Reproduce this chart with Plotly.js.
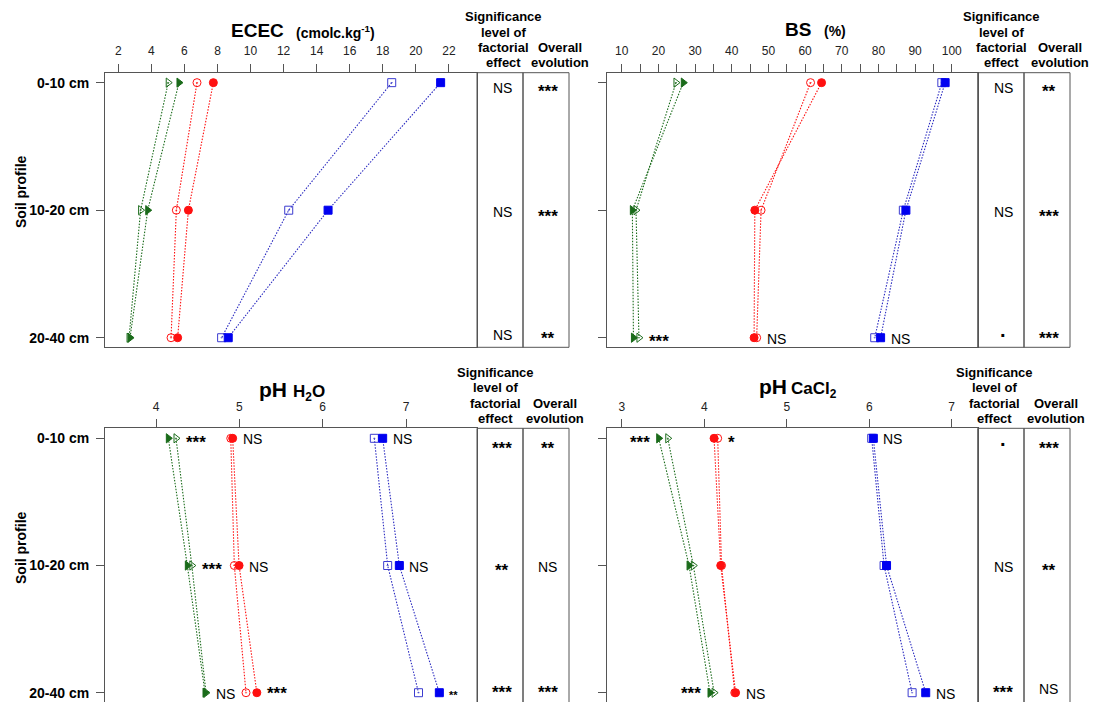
<!DOCTYPE html>
<html><head><meta charset="utf-8">
<script src="https://cdn.plot.ly/plotly-3.0.1.min.js"></script>
<style>html,body{margin:0;padding:0;background:#fff}#chart{width:1096px;height:702px}</style>
</head><body><div id="chart"></div>
<script>
// ---------- DATA ----------
const depths = ['0-10 cm', '10-20 cm', '20-40 cm'];

// ECEC (cmolc.kg-1)
const ececOpenTri  = [5.02, 3.35, 2.65];
const ececFillTri  = [5.67, 3.78, 2.71];
const ececOpenCirc = [6.76, 5.51, 5.19];
const ececFillCirc = [7.75, 6.24, 5.59];
const ececOpenSq   = [18.54, 12.31, 8.25];
const ececFillSq   = [21.5, 14.69, 8.65];
const ececTickVals = [2, 4, 6, 8, 10, 12, 14, 16, 18, 20, 22];
const ececFactor = ['NS', 'NS', 'NS'];
const ececEvol   = ['***', '***', '**'];

// BS (%)
const bsOpenTri  = [24.8, 13.9, 14.7];
const bsFillTri  = [26.8, 12.9, 13.2];
const bsOpenCirc = [61.5, 48.0, 46.8];
const bsFillCirc = [64.5, 46.3, 46.1];
const bsOpenSq   = [97.3, 86.8, 79.0];
const bsFillSq   = [98.2, 87.5, 80.6];
const bsTickVals = [10, 20, 30, 40, 50, 60, 70, 80, 90, 100];
const bsMinorTickVals = [15, 25, 35, 45, 55, 65, 75, 85, 95];
const bsGreenSig = ['', '', '***'];
const bsRedSig   = ['', '', 'NS'];
const bsBlueSig  = ['', '', 'NS'];
const bsFactor = ['NS', 'NS', '·'];
const bsEvol   = ['**', '***', '***'];

// pH H2O
const phwOpenTri  = [4.24, 4.43, 4.60];
const phwFillTri  = [4.148, 4.376, 4.588];
const phwOpenCirc = [4.897, 4.94, 5.08];
const phwFillCirc = [4.92, 4.997, 5.21];
const phwOpenSq   = [6.62, 6.78, 7.15];
const phwFillSq   = [6.72, 6.92, 7.40];
const phwTickVals = [4, 5, 6, 7];
const phwGreenSig = ['***', '***', 'NS'];
const phwRedSig   = ['NS', 'NS', '***'];
const phwBlueSig  = ['NS', 'NS', '**'];
const phwFactor = ['***', '**', '***'];
const phwEvol   = ['**', 'NS', '***'];

// pH CaCl2
const phcOpenTri  = [3.558, 3.868, 4.12];
const phcFillTri  = [3.448, 3.816, 4.07];
const phcOpenCirc = [4.163, 4.21, 4.37];
const phcFillCirc = [4.119, 4.20, 4.38];
const phcOpenSq   = [6.03, 6.18, 6.52];
const phcFillSq   = [6.05, 6.21, 6.685];
const phcTickVals = [3, 4, 5, 6, 7];
const phcGreenSig = ['***', '', '***'];
const phcRedSig   = ['*', '', 'NS'];
const phcBlueSig  = ['NS', '', 'NS'];
const phcFactor = ['·', 'NS', '***'];
const phcEvol   = ['***', '**', 'NS'];

const headerSig  = ['Significance', 'level of', 'factorial', 'effect'];
const headerEvol = ['Overall', 'evolution'];
const yTitle = 'Soil profile';

// ---------- LAYOUT / STYLE ----------
const W = 1096, H = 702;
const FONT = 'Liberation Sans, Arial, sans-serif';
const px = x => x / W;
const py = y => 1 - y / H;
const GREEN = '#1a6b1a', RED = '#ff1010', BLUE = '#0000f0', BLUE_OPEN = '#3c3cd0';
const AX = '#555555';

const seriesStyle = [
  {color: GREEN, line: GREEN, symbol: 'triangle-right-open-dot'},
  {color: GREEN, line: GREEN, symbol: 'triangle-right'},
  {color: RED, line: RED, symbol: 'circle-open-dot'},
  {color: RED, line: RED, symbol: 'circle'},
  {color: BLUE_OPEN, line: '#2a2ac0', symbol: 'square-open-dot'},
  {color: BLUE, line: '#2a2ac0', symbol: 'square'}
];

const panels = [
  {xa: 'x', ya: 'y', xd: [105, 477], yd: [72.7, 347.3], yr: [2.075, -0.078], xr: [1.195, 23.70],
   tv: ececTickVals, minor: null, labels: true, mirrorX: true,
   series: [ececOpenTri, ececFillTri, ececOpenCirc, ececFillCirc, ececOpenSq, ececFillSq],
   sig: null, factor: ececFactor, evol: ececEvol,
   cols: [477, 523, 569], colTextX: [502, 547.5], headX: [503, 560], headY: [17, 32, 47.5, 62.5],
   rowShift: [-5, -2, 3], rowTop: 72.7, rowBot: 347.3,
   title: [{text: '<b>ECEC</b>', size: 19, x: 229, y: 30.7}, {text: '<b>(cmolc.kg<sup>-1</sup>)</b>', size: 14, x: 294, y: 32.5}],
   yTitleY: 192},
  {xa: 'x2', ya: 'y2', xd: [607.3, 977.7], yd: [72.7, 347.3], yr: [2.075, -0.078], xr: [6.07, 107.08],
   tv: bsTickVals, minor: bsMinorTickVals, labels: false, mirrorX: true,
   series: [bsOpenTri, bsFillTri, bsOpenCirc, bsFillCirc, bsOpenSq, bsFillSq],
   sig: [[bsGreenSig, 'right'], [bsRedSig, 'right'], [bsBlueSig, 'right']], factor: bsFactor, evol: bsEvol,
   cols: [977.7, 1024, 1070], colTextX: [1003, 1048.5], headX: [1001, 1060], headY: [17, 32, 47.5, 62.5],
   rowShift: [-5, -2, 3], rowTop: 72.7, rowBot: 347.3,
   title: [{text: '<b>BS</b>', size: 19, x: 783, y: 30}, {text: '<b>(%)</b>', size: 14, x: 822, y: 31.5}]},
  {xa: 'x3', ya: 'y3', xd: [105, 477], yd: [428.3, 702], yr: [2.073, -0.0786], xr: [3.388, 7.852],
   tv: phwTickVals, minor: null, labels: true, mirrorX: false,
   series: [phwOpenTri, phwFillTri, phwOpenCirc, phwFillCirc, phwOpenSq, phwFillSq],
   sig: [[phwGreenSig, 'right'], [phwRedSig, 'right'], [phwBlueSig, 'right']], factor: phwFactor, evol: phwEvol,
   cols: [477, 523, 569], colTextX: [502, 547.5], headX: [495, 555], headY: [372.6, 387.6, 403.1, 418.1],
   rowShift: [-6, -1, 4], rowTop: 428.3, rowBot: 704, bottomPanel: true,
   title: [{text: '<b>pH</b>', size: 21, x: 257, y: 389}, {text: '<b>H<sub>2</sub>O</b>', size: 17, x: 291, y: 393}],
   yTitleY: 548, smallLast: true},
  {xa: 'x4', ya: 'y4', xd: [607.3, 977.7], yd: [428.3, 702], yr: [2.073, -0.0786], xr: [2.825, 7.315],
   tv: phcTickVals, minor: null, labels: false, mirrorX: false,
   series: [phcOpenTri, phcFillTri, phcOpenCirc, phcFillCirc, phcOpenSq, phcFillSq],
   sig: [[phcGreenSig, 'left'], [phcRedSig, 'right'], [phcBlueSig, 'right']], factor: phcFactor, evol: phcEvol,
   cols: [977.7, 1024, 1070], colTextX: [1003, 1048.5], headX: [994, 1056], headY: [372.6, 387.6, 403.1, 418.1],
   rowShift: [-6, -1, 4], rowTop: 428.3, rowBot: 704, bottomPanel: true,
   title: [{text: '<b>pH</b>', size: 21, x: 757, y: 386}, {text: '<b>CaCl<sub>2</sub></b>', size: 17, x: 789, y: 390}]}
];

const traces = [];
const annotations = [];
const shapes = [];
const layout = {
  width: W, height: H, margin: {l: 0, r: 0, t: 0, b: 0},
  paper_bgcolor: '#fff', plot_bgcolor: '#fff', showlegend: false,
  font: {family: FONT, color: '#000'}
};

const isStars = s => /^\*+$/.test(s);

panels.forEach((p, pi) => {
  const xk = 'xaxis' + (pi ? pi + 1 : '');
  const yk = 'yaxis' + (pi ? pi + 1 : '');
  layout[xk] = {
    domain: [px(p.xd[0]), px(p.xd[1])], range: p.xr, anchor: p.ya, side: 'top',
    tickmode: 'array', tickvals: p.tv, ticktext: p.tv.map(String),
    ticks: 'outside', ticklen: 8, tickcolor: AX, tickwidth: 1, ticklabelstandoff: 4,
    showline: true, linecolor: AX, linewidth: 1, mirror: p.mirrorX,
    showgrid: false, zeroline: false, automargin: false, fixedrange: true,
    tickfont: {family: FONT, size: 12, color: '#222'}
  };
  if (p.minor) {
    layout[xk].minor = {tickmode: 'array', tickvals: p.minor, ticks: 'outside', ticklen: 8, tickcolor: AX, tickwidth: 1, showgrid: false};
  }
  layout[yk] = {
    domain: [py(p.yd[1]), py(p.yd[0])], range: p.yr, anchor: p.xa, type: 'category', categoryarray: depths,
    ticks: 'outside', ticklen: 8, tickcolor: AX, tickwidth: 1, ticklabelstandoff: 4,
    showline: true, linecolor: AX, linewidth: 1, mirror: true, showticklabels: p.labels,
    showgrid: false, zeroline: false, automargin: false, fixedrange: true,
    tickfont: {family: FONT, size: 14, color: '#000', weight: 'bold'}
  };

  p.series.forEach((vals, si) => {
    const st = seriesStyle[si];
    traces.push({
      type: 'scatter', mode: 'lines+markers', x: vals, y: depths, xaxis: p.xa, yaxis: p.ya,
      line: {color: st.line, width: 1.1, dash: '1.5px,1.5px'},
      marker: {symbol: st.symbol, size: 8, color: st.color, line: {color: st.color, width: 1}},
      hoverinfo: 'skip', cliponaxis: false
    });
  });

  // significance labels next to each pair of series
  if (p.sig) {
    p.sig.forEach(([labels, side], gi) => {
      const a = p.series[gi * 2], b = p.series[gi * 2 + 1];
      labels.forEach((t, i) => {
        if (!t) return;
        const v = side === 'left' ? Math.min(a[i], b[i]) : Math.max(a[i], b[i]);
        const star = isStars(t);
        const small = p.smallLast && gi === 2 && i === 2;
        const starShift = (p.bottomPanel && i === 2) ? -1 : -4;
        annotations.push({
          xref: p.xa, yref: p.ya, x: v, y: depths[i], text: t, showarrow: false,
          xanchor: side === 'left' ? 'right' : 'left', xshift: side === 'left' ? -7 : 8,
          yshift: star ? (small ? -2 : starShift) : -1,
          font: {family: FONT, size: small ? 11 : (star ? 17 : 14), color: '#000', weight: star ? 'bold' : 'normal'}
        });
      });
    });
  }

  // side columns
  shapes.push({type: 'rect', xref: 'paper', yref: 'paper', x0: px(p.cols[0]), x1: px(p.cols[1]), y0: py(p.rowBot), y1: py(p.rowTop), line: {color: AX, width: 1}});
  shapes.push({type: 'rect', xref: 'paper', yref: 'paper', x0: px(p.cols[1]), x1: px(p.cols[2]), y0: py(p.rowBot), y1: py(p.rowTop), line: {color: AX, width: 1}});
  [p.factor, p.evol].forEach((arr, ci) => {
    arr.forEach((t, i) => {
      const star = isStars(t);
      const dot = t === '·';
      annotations.push({
        xref: 'paper', yref: p.ya, x: px(p.colTextX[ci]), y: depths[i], text: dot ? '<b>·</b>' : t, showarrow: false,
        xanchor: 'center', yshift: p.rowShift[i] + (star ? -4 : 0),
        font: {family: FONT, size: dot ? 20 : (star ? 17 : 14), color: '#000', weight: (star || dot) ? 'bold' : 'normal'}
      });
    });
  });

  // headers
  headerSig.forEach((t, i) => annotations.push({
    xref: 'paper', yref: 'paper', x: px(p.headX[0]), y: py(p.headY[i]), text: '<b>' + t + '</b>', showarrow: false,
    xanchor: 'center', yanchor: 'middle', font: {family: FONT, size: 13, color: '#000'}
  }));
  headerEvol.forEach((t, i) => annotations.push({
    xref: 'paper', yref: 'paper', x: px(p.headX[1]), y: py(p.headY[i + 2]), text: '<b>' + t + '</b>', showarrow: false,
    xanchor: 'center', yanchor: 'middle', font: {family: FONT, size: 13, color: '#000'}
  }));

  // titles
  p.title.forEach(tt => annotations.push({
    xref: 'paper', yref: 'paper', x: px(tt.x), y: py(tt.y), text: tt.text, showarrow: false,
    xanchor: 'left', yanchor: 'middle', font: {family: FONT, size: tt.size, color: '#000'}
  }));

  if (p.yTitleY) {
    annotations.push({
      xref: 'paper', yref: 'paper', x: px(21), y: py(p.yTitleY), text: '<b>' + yTitle + '</b>', showarrow: false,
      textangle: -90, xanchor: 'center', yanchor: 'middle', font: {family: FONT, size: 14, color: '#000'}
    });
  }
});

layout.annotations = annotations;
layout.shapes = shapes;

Plotly.newPlot('chart', traces, layout, {displayModeBar: false, staticPlot: true});
</script>
</body></html>
